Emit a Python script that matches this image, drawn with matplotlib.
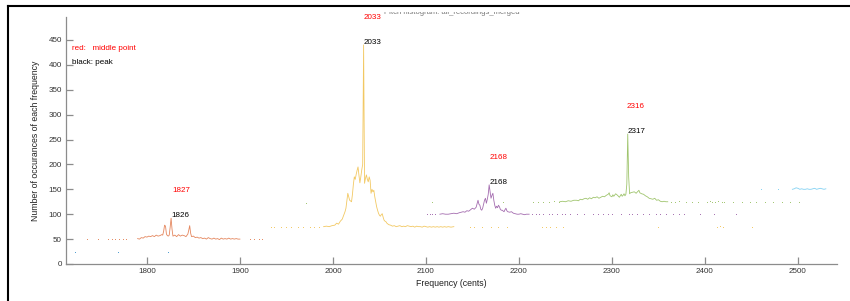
"""Pitch histogram: count per cent, one coloured series per note, offset by 25."""
import numpy as np
import matplotlib
matplotlib.use("Agg")
import matplotlib.pyplot as plt
from matplotlib.lines import Line2D
from matplotlib.patches import Rectangle

plt.rcParams["font.family"] = ["Liberation Sans", "DejaVu Sans"]

# MATLAB default colour order
C = [(0, 0.447, 0.741), (0.85, 0.325, 0.098), (0.929, 0.694, 0.125),
     (0.494, 0.184, 0.556), (0.466, 0.674, 0.188), (0.301, 0.745, 0.933)]

# ---- data: (cents, count) for connected parts, plus isolated bins ----
blue_dots = [(1723, 25), (1769, 25), (1823, 25)]

orange_line = [(1790, 51), (1792, 50), (1794, 53), (1796, 52), (1798, 55), (1800, 54),
               (1802, 56), (1804, 55), (1806, 57), (1808, 55), (1810, 58), (1812, 56),
               (1814, 57), (1816, 59), (1817, 58), (1818, 66), (1819, 78), (1820, 76),
               (1821, 60), (1822, 57), (1823, 56), (1824, 58), (1825, 74), (1826, 92),
               (1827, 70), (1828, 56), (1830, 58), (1832, 55), (1834, 59), (1836, 56),
               (1838, 58), (1840, 57), (1842, 55), (1844, 60), (1845, 68), (1846, 77),
               (1847, 62), (1848, 55), (1850, 56), (1852, 53), (1854, 54), (1856, 52),
               (1858, 53), (1860, 51), (1862, 52), (1864, 50), (1866, 53), (1868, 51),
               (1870, 50), (1872, 52), (1874, 50), (1876, 51), (1878, 49), (1880, 52),
               (1882, 50), (1884, 51), (1886, 50), (1888, 52), (1890, 50), (1892, 51),
               (1894, 50), (1896, 51), (1898, 50), (1900, 50)]
orange_dots = [(1736, 50), (1747, 50), (1758, 50), (1762, 50), (1766, 51), (1770, 50),
               (1774, 51), (1778, 50), (1911, 50), (1915, 50), (1920, 50), (1924, 50)]

yellow_line = [(1990, 75), (1993, 76), (1996, 75), (1999, 77), (2002, 78), (2004, 82),
               (2006, 80), (2008, 86), (2010, 90), (2011, 95), (2013, 105), (2014, 112),
               (2016, 142), (2017, 135), (2018, 128), (2020, 125), (2021, 140), (2022, 160),
               (2023, 175), (2024, 170), (2025, 180), (2026, 188), (2027, 195), (2028, 178),
               (2029, 163), (2030, 175), (2031, 189), (2032, 200), (2033, 440), (2034, 162),
               (2035, 172), (2036, 179), (2037, 170), (2038, 165), (2039, 175), (2040, 168),
               (2041, 142), (2042, 150), (2043, 145), (2044, 148), (2045, 135), (2046, 125),
               (2047, 115), (2048, 108), (2049, 102), (2050, 98), (2051, 96), (2052, 99),
               (2053, 101), (2054, 94), (2055, 88), (2056, 86), (2057, 85), (2058, 82),
               (2060, 79), (2062, 78), (2064, 76), (2066, 77), (2068, 75), (2070, 76),
               (2072, 77), (2074, 75), (2076, 76), (2078, 75), (2080, 77), (2082, 76),
               (2084, 75), (2086, 76), (2088, 74), (2090, 76), (2092, 75), (2094, 75),
               (2096, 74), (2098, 76), (2100, 75), (2102, 74), (2104, 75), (2106, 74),
               (2108, 75), (2110, 74), (2112, 75), (2114, 74), (2116, 75), (2118, 74),
               (2120, 75), (2122, 74), (2124, 75), (2127, 74), (2130, 75)]
yellow_dots = [(1933, 75), (1937, 75), (1944, 74), (1950, 75), (1955, 75), (1962, 74),
               (1968, 75), (1975, 75), (1980, 74), (1985, 75), (2147, 75), (2152, 75),
               (2160, 74), (2170, 75), (2178, 75), (2187, 74), (2225, 75), (2229, 75),
               (2233, 75), (2240, 75), (2247, 75), (2349, 75), (2413, 75), (2416, 76),
               (2419, 75), (2451, 75)]

purple_line = [(2115, 100), (2118, 101), (2121, 100), (2124, 100), (2127, 101), (2130, 102),
               (2133, 101), (2136, 103), (2138, 104), (2140, 105), (2142, 104), (2144, 107),
               (2146, 106), (2148, 109), (2150, 112), (2152, 110), (2154, 114), (2156, 128),
               (2157, 120), (2158, 118), (2159, 110), (2160, 108), (2161, 112), (2162, 120),
               (2163, 128), (2164, 132), (2165, 122), (2166, 130), (2167, 140), (2168, 159),
               (2169, 145), (2170, 132), (2171, 138), (2172, 142), (2173, 128), (2174, 118),
               (2175, 112), (2176, 116), (2177, 113), (2178, 118), (2179, 115), (2180, 110),
               (2181, 108), (2182, 108), (2184, 105), (2185, 109), (2186, 112), (2187, 107),
               (2188, 105), (2190, 104), (2192, 105), (2194, 102), (2196, 101), (2198, 100),
               (2200, 100), (2202, 101), (2204, 100), (2206, 99), (2208, 100), (2211, 100)]
purple_dots = [(2101, 100), (2104, 100), (2107, 100), (2110, 100), (2214, 100), (2218, 100),
               (2222, 100), (2226, 101), (2232, 100), (2236, 100), (2241, 100), (2246, 100),
               (2250, 100), (2255, 101), (2262, 100), (2270, 100), (2280, 100), (2285, 100),
               (2290, 100), (2296, 100), (2300, 100), (2310, 100), (2318, 101), (2322, 100),
               (2327, 100), (2333, 100), (2340, 100), (2347, 100), (2352, 100), (2358, 100),
               (2366, 100), (2372, 100), (2378, 100), (2395, 100), (2410, 100), (2433, 100)]

green_line = [(2244, 125), (2247, 126), (2250, 125), (2253, 127), (2256, 126), (2259, 128),
              (2262, 128), (2264, 127), (2266, 130), (2268, 129), (2270, 131), (2272, 132),
              (2274, 130), (2276, 133), (2278, 131), (2280, 134), (2282, 133), (2284, 135),
              (2286, 132), (2288, 134), (2290, 136), (2292, 135), (2294, 138), (2296, 140),
              (2297, 143), (2298, 137), (2300, 135), (2301, 139), (2302, 136), (2304, 141),
              (2306, 138), (2308, 134), (2310, 140), (2311, 136), (2312, 138), (2313, 141),
              (2314, 137), (2315, 140), (2316, 160), (2317, 261), (2318, 175), (2319, 141),
              (2320, 143), (2322, 144), (2324, 145), (2326, 142), (2328, 146), (2329, 148),
              (2330, 143), (2332, 141), (2334, 140), (2336, 137), (2338, 135), (2340, 132),
              (2342, 131), (2344, 130), (2346, 132), (2348, 128), (2350, 129), (2352, 126),
              (2354, 125), (2356, 126), (2358, 125), (2360, 125)]
green_dots = [(1971, 123), (2106, 124), (2183, 125), (2215, 125), (2220, 125), (2226, 125),
              (2232, 125), (2238, 126), (2243, 125), (2364, 125), (2368, 125), (2372, 126),
              (2380, 125), (2386, 125), (2393, 125), (2402, 125), (2405, 126), (2408, 125),
              (2411, 125), (2414, 126), (2418, 125), (2421, 125), (2430, 125), (2440, 125),
              (2448, 125), (2455, 125), (2465, 125), (2473, 125), (2483, 125), (2492, 125),
              (2501, 125)]

cyan_line = [(2494, 150), (2496, 151), (2498, 153), (2500, 152), (2502, 150), (2504, 151),
             (2506, 150), (2508, 150), (2510, 151), (2512, 150), (2514, 150), (2516, 151),
             (2518, 152), (2520, 150), (2522, 151), (2524, 152), (2526, 151), (2528, 150),
             (2530, 151)]
cyan_dots = [(2460, 150), (2479, 150)]

peaks = [1826, 2033, 2168, 2317]          # black labels
peak_counts = [92, 440, 159, 261]
middles = [1827, 2033, 2168, 2316]        # red labels

series = [([], blue_dots), (orange_line, orange_dots), (yellow_line, yellow_dots),
          (purple_line, purple_dots), (green_line, green_dots), (cyan_line, cyan_dots)]

fig = plt.figure(figsize=(8.5, 3.01), dpi=100)
ax = fig.add_axes([66 / 850, 1 - 264 / 301, (837 - 66) / 850, (264 - 17) / 301])

for col, (line, dots) in zip(C, series):
    if line:
        f, v = zip(*line)
        ax.plot(f, v, color=col, lw=0.6, alpha=0.7)
    f, v = zip(*dots)
    ax.plot(f, v, ls="none", marker="s", ms=0.7, mew=0, color=col, alpha=0.45)

for f, m, p in zip(peaks, middles, peak_counts):
    ax.text(f, p + 5, str(f), fontsize=5.8, color="black", va="center", ha="left")
    ax.text(m, p + 55, str(m), fontsize=5.8, color="red", va="center", ha="left")

ax.text(1719, 432, "red:   middle point", fontsize=5.8, color="red", va="center")
ax.text(1719, 404, "black: peak", fontsize=5.8, color="black", va="center")

ax.set_xlim(1713, 2542)
ax.set_ylim(0, 496)
ax.set_xticks([1800, 1900, 2000, 2100, 2200, 2300, 2400, 2500])
ax.set_yticks(np.arange(0, 451, 50))
for s in ["top", "right"]:
    ax.spines[s].set_visible(False)
for s in ["left", "bottom"]:
    ax.spines[s].set_color("#8c8c8c")
    ax.spines[s].set_linewidth(0.9)
ax.tick_params(direction="in", length=5, width=0.9, color="#8c8c8c",
               labelsize=5.8, labelcolor="#333333", pad=3)
ax.set_xlabel("Frequency (cents)", fontsize=6.3, color="#222222", labelpad=3)
ax.set_ylabel("Number of occurances of each frequency", fontsize=6.3,
              color="#222222", labelpad=6)

# title, mostly hidden behind the window frame
fig.text(452 / 850, 1 - 13 / 301, "Pitch histogram: all_recordings_merged",
         fontsize=5.5, color="#777777", ha="center", va="center")
fig.add_artist(Rectangle((0, 1 - 12 / 301), 1, 12 / 301, transform=fig.transFigure,
                         facecolor="white", edgecolor="none", zorder=5))
# window frame: top and left edges
fig.add_artist(Line2D([8 / 850, 1], [1 - 6 / 301, 1 - 6 / 301], color="black", lw=1.5, zorder=6))
fig.add_artist(Line2D([8 / 850, 8 / 850], [0, 1 - 6 / 301], color="black", lw=1.5, zorder=6))

fig.savefig("out.png", dpi=100)
